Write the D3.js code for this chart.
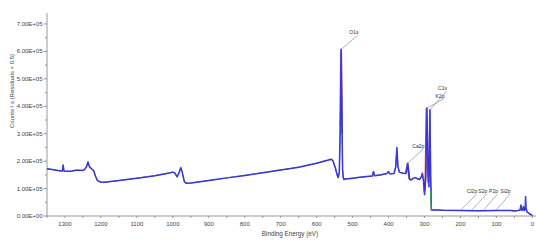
<!DOCTYPE html>
<html><head><meta charset="utf-8">
<script src="https://cdn.jsdelivr.net/npm/d3@7"></script>
<style>body{margin:0;background:#fff}svg{display:block}text{font-family:"Liberation Sans",Arial,sans-serif}</style>
</head><body><svg id="c" width="550" height="242"></svg>
<script>
// Survey spectrum (binding energy in eV, counts/s)
const surveyBE = [1350,1340,1320,1310,1307,1305,1303,1290,1280,1270,1260,1250,1245,1240,1236,1232,1226,1220,1215,1210,1205,1200,1190,1150,1100,1050,1010,1000,995,988,982,978,974,968,962,950,900,850,800,750,700,673,650,600,570,560,555,548,543,540,537,534,532,530,528,526,524,520,500,480,460,445,442,439,420,405,402,400,397,385,380,377,374,370,360,352,349,347,345,342,338,332,326,320,314,308,306,303,300,297,294,292,290,288,286,285,283,281,270,250,200,150,100,60,50,40,34,32,30,27,25,23,20,19,18,15,10,5,0];
const surveyCounts = [172000,170000,166000,164000,165000,186000,164000,163000,164000,167000,167000,166000,170000,180000,197000,180000,172000,165000,145000,130000,126000,124000,123000,129000,138000,147000,157000,160000,157000,143000,160000,176000,160000,125000,119000,120000,129000,139000,148000,158000,168000,173000,178000,192000,203000,207000,202000,175000,150000,140000,160000,350000,608000,400000,170000,140000,133000,135000,138000,141000,144000,146000,162000,147000,150000,155000,160000,162000,154000,155000,180000,249000,180000,160000,156000,155000,175000,192000,170000,135000,131000,137000,140000,136000,133000,145000,156000,130000,78000,140000,393000,300000,150000,107000,250000,387000,150000,22000,22000,21000,20000,19000,20000,20000,18000,20000,22000,40000,22000,22000,35000,20000,25000,70000,30000,15000,10000,6000,2000];
// Fit envelopes (red) over fitted regions
const fitCaBE = [352,349,347,345,342];
const fitCaCounts = [155000,174000,190000,168000,134000];
const fitKBE = [301,299,297,295,294,293,291,289];
const fitKCounts = [90000,100000,150000,330000,395000,340000,180000,120000];
const fitOBE = [534,533,532,531,530];
const fitOCounts = [330000,480000,600000,470000,300000];
// Residual/background (green)
const greenBE = [283,282,281,280];
const greenCounts = [90000,45000,20000,19000];
// Axis ticks
const xTicks = [1300,1200,1100,1000,900,800,700,600,500,400,300,200,100,0];
const yTicks = [0,100000,200000,300000,400000,500000,600000,700000];
const yTickLabels = ["0.00E+00","1.00E+05","2.00E+05","3.00E+05","4.00E+05","5.00E+05","6.00E+05","7.00E+05"];
// Peak annotations: anchor (BE, counts) and label point (BE, counts)
const annoLabels = ["O1s","C1s","K2p","Ca2p","Cl2p","S2p","P2p","Si2p"];
const annoBE = [531,285,293,347,198,168,135,100];
const annoCounts = [608000,387000,393000,192000,23000,23000,23000,23000];
const annoLabelBE = [485,239,246,302,155,127,97,62];
const annoLabelCounts = [660000,455000,428000,246000,80000,80000,80000,80000];

const svg = d3.select("#c");
const x = d3.scaleLinear().domain([1350,-10]).range([47,536]);
const y = d3.scaleLinear().domain([0,740000]).range([216,13]);
const axisCol = "#808080", txtCol = "#444";

// axes lines
svg.append("line").attr("x1",47).attr("x2",47).attr("y1",y(740000)).attr("y2",y(0)).attr("stroke",axisCol).attr("stroke-width",0.8);
svg.append("line").attr("x1",47).attr("x2",536).attr("y1",y(0)).attr("y2",y(0)).attr("stroke",axisCol).attr("stroke-width",0.8);

// y ticks
const yMinor = d3.range(50000,740000,100000);
svg.selectAll(".ymaj").data(yTicks).join("line").attr("x1",43.5).attr("x2",47).attr("y1",d=>y(d)).attr("y2",d=>y(d)).attr("stroke",axisCol).attr("stroke-width",0.8);
svg.selectAll(".ymin").data(yMinor).join("line").attr("x1",45).attr("x2",47).attr("y1",d=>y(d)).attr("y2",d=>y(d)).attr("stroke",axisCol).attr("stroke-width",0.8);
svg.selectAll(".ylab").data(yTicks).join("text").attr("x",42.5).attr("y",d=>y(d)+2).attr("text-anchor","end").attr("font-size",6).attr("fill",txtCol).text((d,i)=>yTickLabels[i]);

// x ticks
const xMinor = d3.range(1350,-1,-50);
svg.selectAll(".xmin").data(xMinor).join("line").attr("x1",d=>x(d)).attr("x2",d=>x(d)).attr("y1",y(0)).attr("y2",y(0)+2).attr("stroke",axisCol).attr("stroke-width",0.8);
svg.selectAll(".xlab").data(xTicks).join("text").attr("x",d=>x(d)).attr("y",225.5).attr("text-anchor","middle").attr("font-size",6).attr("fill",txtCol).text(d=>d);

svg.append("text").attr("x",290).attr("y",235.5).attr("text-anchor","middle").attr("font-size",6.3).attr("fill",txtCol).text("Binding Energy (eV)");
svg.append("text").attr("transform","translate(14,91) rotate(-90)").attr("text-anchor","middle").attr("font-size",6).attr("fill",txtCol).text("Counts / s  (Residuals × 0.5)");

const line = d3.line().x(d=>x(d[0])).y(d=>y(d[1]));
const zip = (a,b)=>a.map((v,i)=>[v,b[i]]);

[[fitOBE,fitOCounts],[fitCaBE,fitCaCounts],[fitKBE,fitKCounts]].forEach(([a,b])=>{
  svg.append("path").datum(zip(a,b)).attr("d",line).attr("fill","none").attr("stroke","#e05060").attr("stroke-width",2.2).attr("opacity",0.7);
});
svg.append("path").datum(zip(surveyBE,surveyCounts)).attr("d",line).attr("fill","none").attr("stroke","#2424c8").attr("stroke-width",1.5).attr("stroke-linejoin","round");
svg.append("path").datum(zip(surveyBE,surveyCounts)).attr("d",line).attr("fill","none").attr("stroke","#5050f0").attr("stroke-width",0.5);
svg.append("path").datum(zip(greenBE,greenCounts)).attr("d",line).attr("fill","none").attr("stroke","#30b040").attr("stroke-width",1);

// annotations
annoLabels.forEach((lab,i)=>{
  const x1=x(annoBE[i]), y1=y(annoCounts[i]), x2=x(annoLabelBE[i]), y2=y(annoLabelCounts[i]);
  svg.append("line").attr("x1",x1).attr("y1",y1).attr("x2",x2).attr("y2",y2).attr("stroke","#666").attr("stroke-width",0.5);
  svg.append("text").attr("x",x2+0.5).attr("y",y2-0.8).attr("text-anchor","end").attr("font-size",5).attr("fill","#333").text(lab);
});
</script></body></html>
